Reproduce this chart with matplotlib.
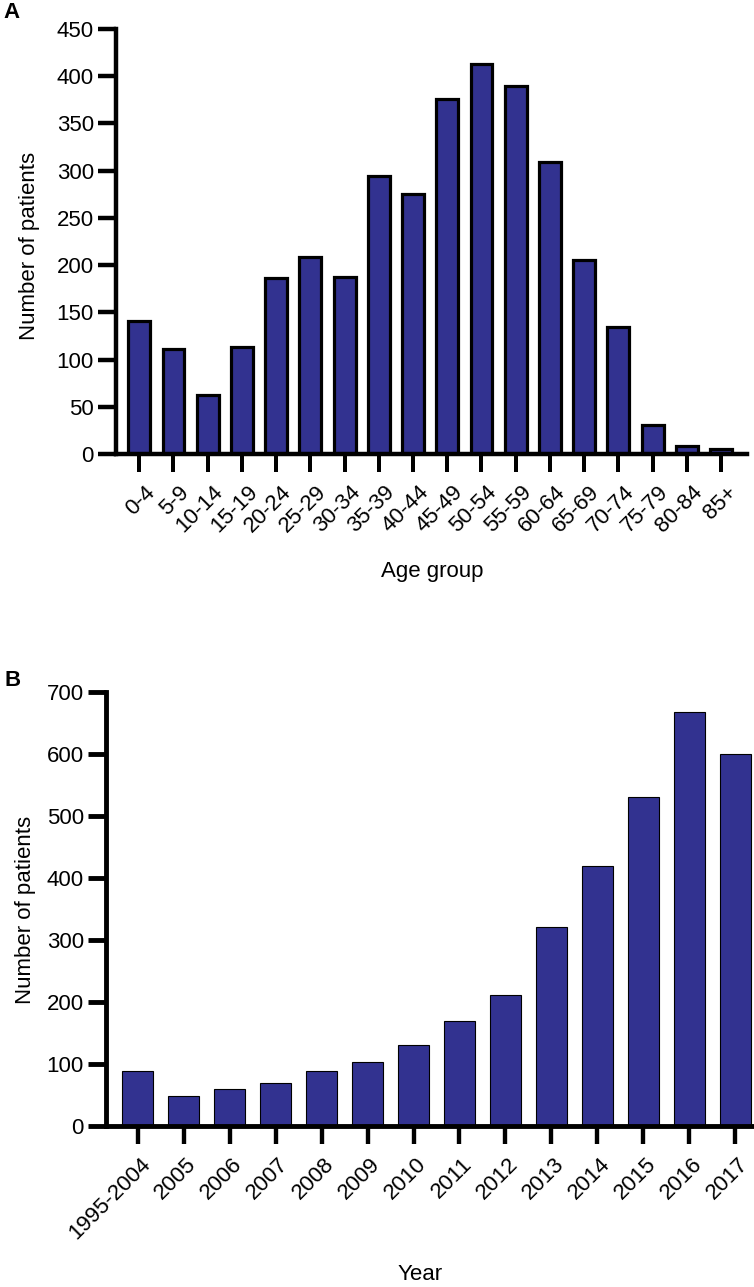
import matplotlib
matplotlib.use("Agg")
import matplotlib.pyplot as plt
from matplotlib.transforms import ScaledTranslation

plt.rcParams['font.family'] = ['Liberation Sans', 'DejaVu Sans']

age_groups = ["0-4", "5-9", "10-14", "15-19", "20-24", "25-29", "30-34", "35-39",
              "40-44", "45-49", "50-54", "55-59", "60-64", "65-69", "70-74",
              "75-79", "80-84", "85+"]
age_counts = [141, 111, 63, 113, 186, 209, 187, 294, 275, 376, 413, 390, 309,
              205, 134, 31, 9, 5]

years = ["1995-2004", "2005", "2006", "2007", "2008", "2009", "2010", "2011",
         "2012", "2013", "2014", "2015", "2016", "2017"]
year_counts = [88, 48, 59, 69, 88, 104, 130, 169, 211, 321, 419, 530, 668, 600]

W, H = 754, 1287
fig = plt.figure(figsize=(W / 100, H / 100), dpi=100)
BAR = '#323290'
FS = 16

def px_axes(left, right, top, bottom):
    return fig.add_axes([left / W, (H - bottom) / H, (right - left) / W, (bottom - top) / H])

def style(ax, lw, xpad, xshift):
    for s in ['top', 'right']:
        ax.spines[s].set_visible(False)
    for s in ['left', 'bottom']:
        ax.spines[s].set_linewidth(lw)
        ax.spines[s].set_capstyle('projecting')
    ax.tick_params(axis='y', length=13, width=lw, labelsize=FS, pad=3)
    ax.tick_params(axis='x', length=13, width=lw * 0.9, labelsize=FS, pad=xpad)
    off = ScaledTranslation(xshift / 100, 0, fig.dpi_scale_trans)
    for lab in ax.get_xticklabels():
        lab.set_transform(lab.get_transform() + off)

# ---- Panel A ----
axA = px_axes(116, 747, 29, 454)
xa = list(range(len(age_groups)))
axA.bar(xa, age_counts, width=0.64, color=BAR, edgecolor='black', linewidth=2.3)
axA.set_xlim(-0.68, len(age_groups) - 1 + 0.76)
axA.set_ylim(0, 450)
axA.set_yticks(range(0, 451, 50))
axA.set_xticks(xa)
axA.set_xticklabels(age_groups, rotation=45, ha='right', rotation_mode='anchor')
style(axA, 3.2, 7, 5)
axA.set_ylabel('Number of patients', fontsize=FS)
axA.yaxis.set_label_coords(30 / W, (H - 246) / H, transform=fig.transFigure)
axA.yaxis.label.set_va('center')
axA.set_xlabel('Age group', fontsize=FS)
axA.xaxis.set_label_coords(432 / W, (H - 572) / H, transform=fig.transFigure)
axA.xaxis.label.set_va('center')
fig.text(11 / W, (H - 13) / H, 'A', fontsize=16, fontweight='bold', va='center', ha='center')

# ---- Panel B ----
axB = px_axes(106, 767, 692, 1126)
xb = list(range(len(years)))
axB.bar(xb, year_counts, width=0.67, color=BAR, edgecolor='black', linewidth=0.8)
axB.set_xlim(-0.69, len(years) - 1 + 0.69)
axB.set_ylim(0, 700)
axB.set_yticks(range(0, 701, 100))
axB.set_xticks(xb)
axB.set_xticklabels(years, rotation=45, ha='right', rotation_mode='anchor')
style(axB, 3.5, 7, 2)
axB.set_ylabel('Number of patients', fontsize=FS)
axB.yaxis.set_label_coords(25 / W, (H - 910) / H, transform=fig.transFigure)
axB.yaxis.label.set_va('center')
axB.set_xlabel('Year', fontsize=FS)
axB.xaxis.set_label_coords(420 / W, (H - 1275) / H, transform=fig.transFigure)
axB.xaxis.label.set_va('center')
fig.text(13 / W, (H - 680) / H, 'B', fontsize=16, fontweight='bold', va='center', ha='center')

fig.savefig('out.png', dpi=100)
